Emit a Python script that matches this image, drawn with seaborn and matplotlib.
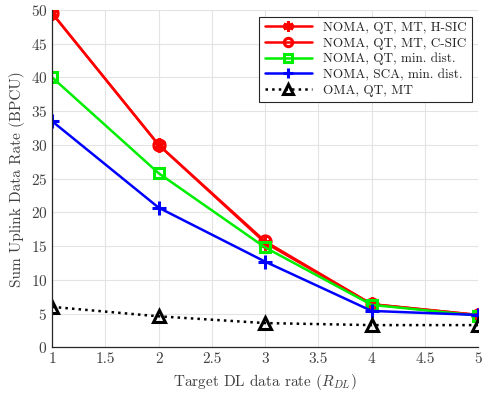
import numpy as np
import pandas as pd
import seaborn as sns
import matplotlib.pyplot as plt

# Data
rates = [1, 2, 3, 4, 5]
noma_hsic = [49.5, 30.0, 15.5, 6.4, 4.8]
noma_csic = [49.5, 30.0, 15.7, 6.4, 4.8]
noma_qt_mind = [40.0, 25.8, 14.8, 6.3, 4.7]
noma_sca_mind = [33.5, 20.7, 12.7, 5.4, 4.8]
oma = [6.0, 4.6, 3.6, 3.3, 3.3]

labels = ["NOMA, QT, MT, H-SIC", "NOMA, QT, MT, C-SIC",
          "NOMA, QT, min. dist.", "NOMA, SCA, min. dist.", "OMA, QT, MT"]
series = [noma_hsic, noma_csic, noma_qt_mind, noma_sca_mind, oma]

sns.set_style("white")
plt.rcParams["font.family"] = ["cmr10"]
plt.rcParams["mathtext.fontset"] = "cm"
plt.rcParams["axes.formatter.use_mathtext"] = True

df = pd.DataFrame({
    "rate": rates * len(series),
    "value": np.concatenate(series),
    "scheme": np.repeat(labels, len(rates)),
})

styles = {
    labels[0]: dict(color="#ff0000", marker=(6, 2, 0), ls="-", mfc="#ff0000", ms=10),
    labels[1]: dict(color="#ff0000", marker="o", ls="-", mfc="none", ms=8),
    labels[2]: dict(color="#00ee00", marker="s", ls="-", mfc="none", ms=7),
    labels[3]: dict(color="#0000ff", marker="+", ls="-", mfc="none", ms=10),
    labels[4]: dict(color="black", marker="^", ls=":", mfc="none", ms=9),
}

fig, ax = plt.subplots(figsize=(4.83, 3.97), dpi=100)
for lab in labels:
    st = styles[lab]
    sns.lineplot(data=df[df.scheme == lab], x="rate", y="value", ax=ax,
                 color=st["color"], linestyle=st["ls"], marker=st["marker"],
                 markersize=st["ms"], markerfacecolor=st["mfc"],
                 markeredgecolor=st["color"], markeredgewidth=2.2,
                 linewidth=1.8, label=lab)

ax.set_xlim(1, 5)
ax.set_ylim(0, 50)
ax.set_xticks(np.arange(1, 5.01, 0.5))
ax.set_xticklabels(["1", "1.5", "2", "2.5", "3", "3.5", "4", "4.5", "5"])
ax.set_yticks(np.arange(0, 51, 5))
ax.grid(True, color="#e3e3e3", linewidth=0.8)
ax.tick_params(direction="in", length=4, colors="#262626", labelsize=11,
               labelcolor="#404040")
for s in ["top", "right"]:
    ax.spines[s].set_visible(False)
for s in ["left", "bottom"]:
    ax.spines[s].set_color("#262626")
    ax.spines[s].set_linewidth(0.9)

ax.set_xlabel(r"Target DL data rate ($R_{DL}$)", fontsize=11, color="#404040")
ax.set_ylabel("Sum Uplink Data Rate (BPCU)", fontsize=11, color="#404040")

leg = ax.legend(loc="upper right", fontsize=9.5, frameon=True, fancybox=False,
                handlelength=3.6, borderpad=0.4, labelspacing=0.25,
                markerscale=0.75, edgecolor="#262626", framealpha=1)
leg.get_frame().set_linewidth(0.8)
for t in leg.get_texts():
    t.set_color("#262626")

fig.subplots_adjust(left=0.108, right=0.99, top=0.975, bottom=0.125)
fig.savefig("out.png", dpi=100)
